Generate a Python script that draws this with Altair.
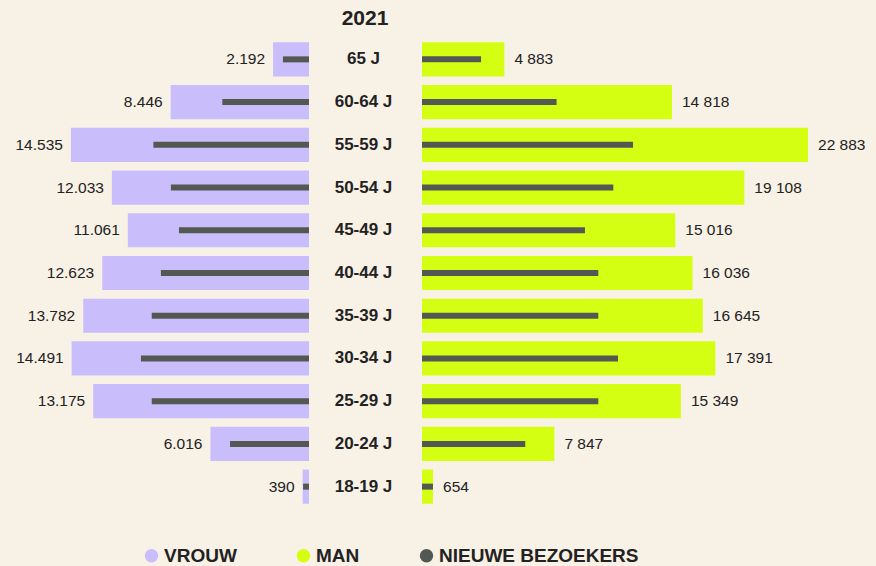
import altair as alt
import pandas as pd

ages = ["65 J", "60-64 J", "55-59 J", "50-54 J", "45-49 J", "40-44 J",
        "35-39 J", "30-34 J", "25-29 J", "20-24 J", "18-19 J"]
vrouw = [2192, 8446, 14535, 12033, 11061, 12623, 13782, 14491, 13175, 6016, 390]
man = [4883, 14818, 22883, 19108, 15016, 16036, 16645, 17391, 15349, 7847, 654]
vrouw_nieuw = [1590, 5290, 9500, 8430, 7940, 9040, 9600, 10260, 9600, 4820, 360]
man_nieuw = [3500, 7980, 12510, 11340, 9660, 10450, 10450, 11620, 10450, 6120, 650]
series = ["VROUW", "MAN", "NIEUWE BEZOEKERS"]
colors = ["#c9bdfc", "#d4ff12", "#535853"]

df = pd.DataFrame({
    "age": ages,
    "vrouw": vrouw,
    "man": man,
    "vrouw_nieuw": vrouw_nieuw,
    "man_nieuw": man_nieuw,
    "vlabel": [f"{v:,}".replace(",", ".") for v in vrouw],
    "mlabel": [f"{v:,}".replace(",", " ") for v in man],
})

FONT = "Liberation Sans"
TXT = "#222222"
H = 470
WL, WM, WR = 309, 113, 454
DL = 18864
DR = 26912

yenc = alt.Y("age:N", sort=ages, axis=None,
             scale=alt.Scale(paddingInner=0.2, paddingOuter=0.1))
cscale = alt.Scale(domain=series, range=colors)
leg = alt.Legend(orient="none", legendX=142, legendY=508, direction="horizontal",
                 title=None, symbolType="circle", symbolSize=180, symbolStrokeWidth=0,
                 labelFont=FONT, labelFontWeight="bold", labelFontSize=19,
                 labelColor=TXT, labelOffset=3, columnPadding=57, padding=0,
                 labelLimit=400, symbolOpacity=1)

base = alt.Chart(df)

left_bar = base.transform_calculate(serie="'VROUW'").mark_bar().encode(
    y=yenc,
    x=alt.X("vrouw:Q", scale=alt.Scale(domain=[0, DL], reverse=True), axis=None),
    color=alt.Color("serie:N", scale=cscale, legend=leg),
)
left_new = base.transform_calculate(serie="'NIEUWE BEZOEKERS'").mark_bar(size=6).encode(
    y=yenc,
    x=alt.X("vrouw_nieuw:Q", scale=alt.Scale(domain=[0, DL], reverse=True), axis=None),
    color=alt.Color("serie:N", scale=cscale, legend=leg),
)
left_txt = base.mark_text(align="right", dx=-8, font=FONT, fontSize=15.5, color=TXT).encode(
    y=yenc,
    x=alt.X("vrouw:Q", scale=alt.Scale(domain=[0, DL], reverse=True), axis=None),
    text="vlabel:N",
)
left = alt.layer(left_bar, left_new, left_txt).properties(width=WL, height=H)

mid = base.mark_text(font=FONT, fontSize=17, fontWeight="bold", color=TXT, dx=-2).encode(
    y=yenc,
    x=alt.value(WM / 2),
    text="age:N",
).properties(width=WM, height=H)

right_bar = base.transform_calculate(serie="'MAN'").mark_bar().encode(
    y=yenc,
    x=alt.X("man:Q", scale=alt.Scale(domain=[0, DR]), axis=None),
    color=alt.Color("serie:N", scale=cscale, legend=leg),
)
right_new = base.transform_calculate(serie="'NIEUWE BEZOEKERS'").mark_bar(size=6).encode(
    y=yenc,
    x=alt.X("man_nieuw:Q", scale=alt.Scale(domain=[0, DR]), axis=None),
    color=alt.Color("serie:N", scale=cscale, legend=leg),
)
right_txt = base.mark_text(align="left", dx=10, font=FONT, fontSize=15.5, color=TXT).encode(
    y=yenc,
    x=alt.X("man:Q", scale=alt.Scale(domain=[0, DR]), axis=None),
    text="mlabel:N",
)
right = alt.layer(right_bar, right_new, right_txt).properties(width=WR, height=H)

chart = alt.hconcat(left, mid, right, spacing=0).properties(
    title=alt.TitleParams("2021", anchor="start", align="center", dx=365,
                          fontSize=21, font=FONT, fontWeight="bold", color=TXT,
                          baseline="top", offset=9),
    padding={"top": 8, "left": 0, "right": 0, "bottom": 0},
    background="#f8f1e6",
).configure_view(stroke=None).configure_concat(spacing=0)

chart.save("out.html", embed_options={"renderer": "svg", "actions": False})
